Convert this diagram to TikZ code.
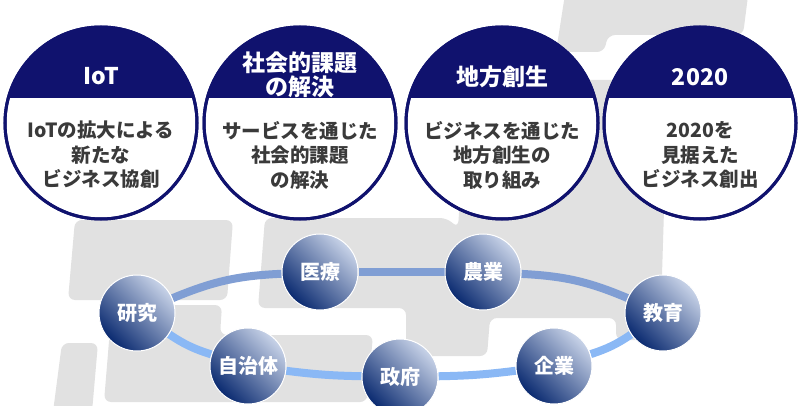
\documentclass[tikz,border=0pt]{standalone}
\usepackage{fontspec}
\setmainfont{Noto Sans CJK JP}
\usepackage{xcolor}
\usetikzlibrary{backgrounds}
\definecolor{kanban}{RGB}{16,18,110}
\definecolor{bodytext}{RGB}{58,58,58}
\definecolor{haikei}{RGB}{225,225,225}
\definecolor{upperlink}{RGB}{128,158,212}
\definecolor{lowerlink}{RGB}{138,184,245}
\definecolor{tamanavy}{RGB}{10,42,112}
\definecolor{tamamid}{RGB}{36,70,140}
\definecolor{tamalight}{RGB}{200,211,232}
\pgfdeclarelayer{logo}
\pgfsetlayers{logo,background,main}

\begin{document}
\begin{tikzpicture}[x=1pt, y=-1pt,
  theme/.style={circle, draw=kanban, line width=3pt, fill=white,
                minimum size=192pt, inner sep=0},
  hdr/.style={font=\fontsize{23}{24.5}\selectfont\bfseries, text=white, align=center},
  body/.style={font=\fontsize{19.5}{24.5}\selectfont\bfseries, text=bodytext, align=center},
  tama/.style={circle, draw=white, line width=1pt, minimum size=76pt, inner sep=0,
               shading=axis, top color=tamalight, middle color=tamamid,
               bottom color=tamanavy, shading angle=-45,
               font=\fontsize{20}{22}\selectfont\bfseries, text=white},
  upper/.style={draw=upperlink, line width=8pt},
  lower/.style={draw=lowerlink, line width=8pt},
  block/.style={fill=haikei, rounded corners=7pt},
]
\useasboundingbox (0,0) rectangle (800,406);

% ---- logo blocks behind everything
\begin{pgfonlayer}{logo}
\fill[white] (0,0) rectangle (800,406);
\fill[block] (566,-12) -- (749,-12) -- (743,35) -- (608,35) -- (604,52) -- (556,52) -- cycle;
\fill[block] (265,218) -- (447,218) -- (458,228) -- (468,80) -- (668,80) -- (660,340)
  -- (616,340) -- (616,318) -- (490,318) -- (487,356) -- (406,356) -- (406,308)
  -- (258,308) -- cycle;
\fill[block] (75,220) -- (233,220) -- (227,300) -- (68,300) -- cycle;
\fill[block] (62,343) -- (98,343) -- (92,412) -- (53,412) -- cycle;
\fill[block] (112,305) -- (222,305) -- (220,335) -- (373,335) -- (367,402) -- (104,402) -- cycle;
\end{pgfonlayer}

% ---- four theme circles, navy cap clipped to the circle
\foreach \n/\cx in {1/101, 2/300, 3/502, 4/700} {
  \node[theme] (theme\n) at (\cx,123) {};
  \begin{scope}
    \clip (\cx,123) circle[radius=96pt];
    \fill[kanban] (\cx-100,20) rectangle (\cx+100,98);
  \end{scope}
  \draw[kanban, line width=3pt] (theme\n.center) circle[radius=96pt];
}
\node[hdr] (hdr1) at (101,76) {IoT};
\node[hdr] (hdr2) at (300,75) {社会的課題\\の解決};
\node[hdr] (hdr3) at (502,77) {地方創生};
\node[hdr] (hdr4) at (700,77) {2020};
\node[body] (body1) at (101,155) {IoTの拡大による\\新たな\\ビジネス協創};
\node[body] (body2) at (300,155) {サービスを通じた\\社会的課題\\の解決};
\node[body] (body3) at (502,155) {ビジネスを通じた\\地方創生の\\取り組み};
\node[body] (body4) at (700,155) {2020を\\見据えた\\ビジネス創出};

% ---- ring of partners
\node[tama] (kenkyu) at (137,313) {研究};
\node[tama] (iryo)   at (320,272) {医療};
\node[tama] (nogyo)  at (483,272) {農業};
\node[tama] (kyoiku) at (663,313) {教育};
\node[tama] (kigyo)  at (554,366) {企業};
\node[tama] (seifu)  at (400,377) {政府};
\node[tama] (jichi)  at (248,366) {自治体};

\begin{scope}[on background layer]
\draw[upper] (kenkyu) to[bend left=10] (iryo);
\draw[upper] (iryo) -- (nogyo);
\draw[upper] (nogyo) to[bend left=10] (kyoiku);
\draw[lower] (kyoiku) to[bend left=8] (kigyo);
\draw[lower] (kigyo) to[bend left=3] (seifu);
\draw[lower] (seifu) to[bend left=3] (jichi);
\draw[lower] (jichi) to[bend left=8] (kenkyu);
\end{scope}
\end{tikzpicture}
\end{document}
